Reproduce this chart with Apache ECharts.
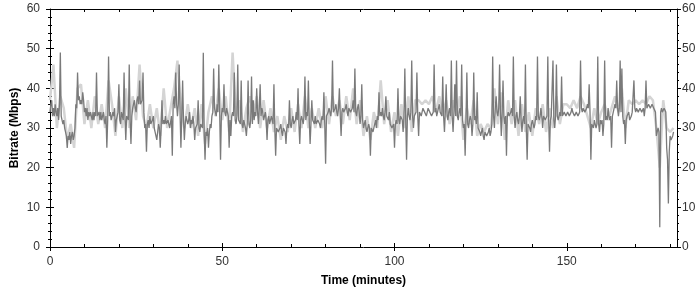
<!DOCTYPE html>
<html>
<head>
<meta charset="utf-8">
<script src="https://cdn.jsdelivr.net/npm/echarts@6/dist/echarts.min.js"></script>
<style>html,body{margin:0;padding:0;background:#fff}#c{width:700px;height:290px}</style>
</head>
<body>
<div id="c"></div>
<script>
// Dark series: sampled every 0.25 minute starting at t = 0 (one group of 4 = one minute)
const darkStart = 0, darkStep = 0.25;
const darkValues = [
34,36,37,33, 35,33,36,34, 33,35,32,36, 49,33,32,31, 32,30,29,28,
25,28,27,29, 26,28,29,27, 28,30,36,35, 44,37,38,36, 37,36,39,37,
34,35,33,35, 32,34,33,34, 33,32,34,32, 34,33,44,33, 33,34,32,34,
32,33,34,32, 31,33,25,32, 48,33,34,32, 32,34,33,35, 29,32,33,34,
41,32,31,34, 34,32,44,33, 27,33,33,32, 46,32,26,33, 35,36,37,35,
34,37,38,36, 42,36,36,37, 44,34,30,31, 24,31,32,30, 33,31,31,32,
33,30,29,28, 27,29,31,30, 25,30,37,31, 32,31,33,31, 31,32,32,30,
30,33,23,36, 38,35,44,36, 33,36,46,34, 25,33,42,32, 27,31,33,32,
31,32,34,30, 32,31,33,31, 27,30,30,31, 37,30,29,31, 31,30,49,29,
22,29,28,30, 25,29,31,30, 33,34,45,35, 34,33,36,34, 46,34,22,33,
35,34,41,34, 33,35,34,33, 25,32,28,33, 34,33,44,32, 31,33,46,32,
32,31,42,31, 30,32,31,30, 28,31,42,31, 30,32,43,31, 37,32,34,33,
40,34,31,35, 41,33,35,34, 32,33,34,32, 27,32,33,31, 31,33,32,31,
41,30,23,30, 30,29,29,30, 31,29,28,30, 30,29,26,30, 31,30,37,31,
30,32,33,31, 31,32,34,32, 40,31,26,32, 33,32,31,33, 43,32,34,33,
42,32,26,31, 37,32,32,31, 33,31,31,32, 32,31,30,32, 33,32,39,31,
21,33,33,34, 35,34,33,35, 47,34,34,35, 36,34,33,35, 40,33,28,34,
35,34,34,35, 36,34,33,35, 35,34,34,35, 37,34,45,34, 33,35,36,34,
31,33,41,32, 30,31,32,30, 29,30,31,30, 23,30,30,29, 29,31,32,30,
33,32,39,33, 34,33,35,33, 32,34,38,33, 33,32,34,31, 31,30,30,31,
25,31,32,31, 40,32,31,33, 33,32,29,33, 45,32,22,33, 35,33,32,34,
47,33,30,33, 33,34,44,33, 28,34,34,33, 33,35,35,34, 34,33,33,35,
35,34,34,33, 33,34,46,34, 35,33,33,35, 36,34,34,33, 43,33,29,34,
41,33,32,34, 35,33,47,33, 29,34,41,33, 47,33,32,34, 35,33,46,32,
30,31,23,32, 44,31,30,32, 33,32,28,31, 44,32,33,31, 39,30,30,29,
28,29,30,28, 27,29,29,28, 28,29,30,28, 29,31,48,33, 30,35,38,34,
33,35,46,34, 28,34,42,33, 31,33,23,33, 34,33,33,34, 35,33,48,33,
30,33,34,32, 31,33,38,32, 29,32,33,31, 46,30,22,31, 31,30,29,31,
32,31,30,31, 33,32,48,33, 32,33,35,33, 30,33,33,32, 32,33,48,32,
24,32,33,33, 47,32,30,33, 46,33,32,33, 34,33,43,33, 33,34,34,33,
33,34,34,33, 33,34,35,34, 34,33,33,34, 34,33,33,34, 47,35,34,35,
35,34,34,35, 36,35,41,34, 22,31,31,30, 32,31,30,31, 48,31,29,32,
31,32,28,31, 47,32,33,32, 35,33,32,33, 25,33,34,35, 36,35,42,35,
33,35,47,34, 45,33,31,32, 26,32,33,33, 34,32,32,33, 34,34,42,35,
34,35,35,34, 34,35,35,34, 34,35,33,35, 42,35,35,36, 36,35,35,36,
36,35,35,34, 28,29,30,29, 5,34,35,34, 34,35,35,34, 25,22,11,24,
28,27,27,28, 29
];
// Light series: sampled every 1 minute starting at t = 0
const lightStart = 0, lightStep = 1;
const lightValues = [
37,46,30,38,35,27,31,25,40,41,
31,37,30,38,31,36,30,42,36,28,
38,30,40,30,38,32,46,33,30,36,
30,35,28,40,30,35,40,47,35,30,
36,30,35,28,36,26,34,38,33,40,
32,38,29,49,33,37,29,35,38,33,
38,30,37,30,35,29,33,27,33,29,
35,29,36,30,38,30,35,30,35,30,
38,31,38,33,37,31,38,32,40,31,
37,28,33,27,34,30,42,31,37,29,
34,28,36,30,38,29,37,37,36,37,
36,38,34,38,33,37,31,37,33,38,
27,35,31,37,28,31,29,31,30,40,
31,39,27,37,31,37,28,36,29,34,
28,35,31,36,29,35,30,38,31,36,
36,35,37,35,38,36,33,30,35,31,
34,36,32,35,38,34,40,30,37,36,
37,36,37,36,38,37,30,20,37,30,
29,30
];
const xMin = 0, xMax = 182, xMajor = 50, xMinor = 10;
const yMin = 0, yMax = 60, yMajor = 10;
const xTitle = 'Time (minutes)';
const yTitle = 'Bitrate (Mbps)';

const darkData = darkValues.map((v, i) => [darkStart + i * darkStep, v]);
const lightData = lightValues.map((v, i) => [lightStart + i * lightStep, v]);

const font = 'Arial, "Liberation Sans", sans-serif';
const black = '#000';
const labelStyle = { color: '#333', fontSize: 12, fontFamily: font };
const nameStyle = { color: '#000', fontSize: 12, fontWeight: 'bold', fontFamily: font };

function xAx(extra) {
  return Object.assign({
    type: 'value', min: xMin, max: xMax, interval: xMajor,
    splitLine: { show: false },
    axisLine: { show: true, onZero: false, lineStyle: { color: black, width: 1 } },
    axisLabel: { show: false },
    axisTick: { show: false }
  }, extra);
}
function yAx(extra) {
  return Object.assign({
    type: 'value', min: yMin, max: yMax, interval: yMajor,
    splitLine: { show: false },
    axisLine: { show: true, onZero: false, lineStyle: { color: black, width: 1 } },
    axisLabel: { show: false },
    axisTick: { show: false }
  }, extra);
}

const chart = echarts.init(document.getElementById('c'), null, { renderer: 'canvas' });
chart.setOption({
  animation: false,
  backgroundColor: '#fff',
  grid: { left: 50, right: 23, top: 9, bottom: 43, containLabel: false, outerBoundsMode: 'none' },
  xAxis: [
    xAx({
      position: 'bottom',
      name: xTitle, nameLocation: 'middle', nameGap: 28, nameMoveOverlap: false, nameTextStyle: nameStyle,
      axisTick: { show: true, inside: false, length: 4, lineStyle: { color: black } },
      axisLabel: Object.assign({ show: true, margin: 9, showMaxLabel: false,
        formatter: v => (v % xMajor === 0 ? String(v) : '') }, labelStyle)
    }),
    xAx({
      position: 'bottom',
      axisLine: { show: false },
      axisTick: { show: true, inside: true, length: 4, lineStyle: { color: black } }
    }),
    xAx({
      position: 'bottom', interval: xMinor,
      axisLine: { show: false },
      axisTick: { show: true, inside: true, length: 3, lineStyle: { color: black } }
    }),
    xAx({
      position: 'top', interval: xMinor,
      axisTick: { show: true, inside: true, length: 3, lineStyle: { color: black } }
    })
  ],
  yAxis: [
    yAx({
      position: 'left',
      name: yTitle, nameLocation: 'middle', nameGap: 29, nameMoveOverlap: false, nameTextStyle: nameStyle,
      axisTick: { show: true, inside: false, length: 4, lineStyle: { color: black } },
      minorTick: { show: true, splitNumber: 5, length: 2, lineStyle: { color: black } },
      axisLabel: Object.assign({ show: true, margin: 10 }, labelStyle)
    }),
    yAx({
      position: 'left',
      axisLine: { show: false },
      axisTick: { show: true, inside: true, length: 4, lineStyle: { color: black } },
      minorTick: { show: true, splitNumber: 5, length: 2, lineStyle: { color: black } }
    }),
    yAx({
      position: 'right',
      axisTick: { show: true, inside: false, length: 4, lineStyle: { color: black } },
      minorTick: { show: true, splitNumber: 5, length: 2, lineStyle: { color: black } },
      axisLabel: Object.assign({ show: true, margin: 5 }, labelStyle)
    }),
    yAx({
      position: 'right',
      axisLine: { show: false },
      axisTick: { show: true, inside: true, length: 4, lineStyle: { color: black } },
      minorTick: { show: true, splitNumber: 5, length: 2, lineStyle: { color: black } }
    })
  ],
  series: [
    {
      name: 'light', type: 'line', xAxisIndex: 0, yAxisIndex: 0,
      data: lightData, showSymbol: false, symbol: 'none', silent: true,
      lineStyle: { color: '#d4d4d4', width: 2.5 }, z: 1
    },
    {
      name: 'dark', type: 'line', xAxisIndex: 0, yAxisIndex: 0,
      data: darkData, showSymbol: false, symbol: 'none', silent: true,
      lineStyle: { color: '#7a7a7a', width: 1.3 }, z: 2
    }
  ]
});
</script>
</body>
</html>
